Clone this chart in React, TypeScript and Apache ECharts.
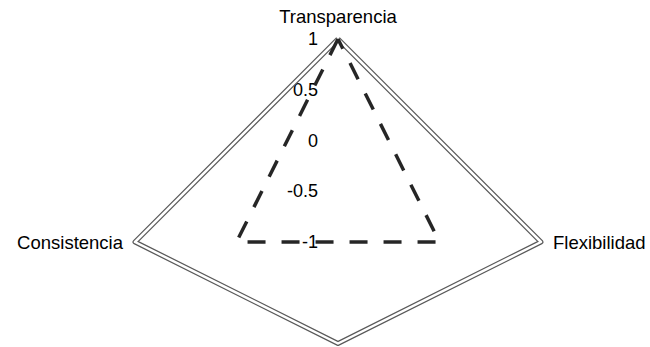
import React, { useEffect, useRef } from "react";
import * as echarts from "echarts";

const indicatorNames = ["Transparencia", "Consistencia", "", "Flexibilidad"];
const outerValues = [1, 1, 0, 1];
const dashedValues = [1, 0, -1, 0];
const axisMin = -1;
const axisMax = 1;

export default function App() {
  const ref = useRef<HTMLDivElement>(null);
  useEffect(() => {
    if (!ref.current) return;
    const chart = echarts.init(ref.current, null, { renderer: "svg" });
    const font = "'Liberation Sans', Arial, sans-serif";
    chart.setOption({
      animation: false,
      backgroundColor: "#ffffff",
      radar: {
        center: [338, 242],
        radius: 203,
        startAngle: 90,
        shape: "polygon",
        splitNumber: 4,
        nameGap: 12,
        axisName: { color: "#000", fontSize: 18.5, fontFamily: font },
        axisLine: { show: false },
        axisTick: { show: false },
        splitLine: { show: false },
        splitArea: { show: false },
        axisLabel: {
          show: true,
          color: "#000",
          fontSize: 18,
          fontFamily: font,
          margin: 20,
        },
        indicator: indicatorNames.map((name, i) => ({
          name,
          min: axisMin,
          max: axisMax,
          ...(i === 0 ? { nameGap: 13 } : { axisLabel: { show: false } }),
        })),
      },
      series: [
        {
          type: "radar",
          symbol: "none",
          silent: true,
          z: 2,
          data: [
            {
              value: outerValues,
              lineStyle: { color: "#5a5a5a", width: 5, type: "solid" },
            },
          ],
        },
        {
          type: "radar",
          symbol: "none",
          silent: true,
          z: 3,
          data: [
            {
              value: outerValues,
              lineStyle: { color: "#ffffff", width: 2.5, type: "solid" },
            },
          ],
        },
        {
          type: "radar",
          symbol: "none",
          silent: true,
          z: 4,
          data: [
            {
              value: dashedValues,
              lineStyle: { color: "#262626", width: 3.5, type: [18, 16] },
            },
          ],
        },
      ],
    });
    return () => chart.dispose();
  }, []);
  return (
    <div
      ref={ref}
      style={{ position: "fixed", left: 0, top: 0, width: 650, height: 347 }}
    />
  );
}
